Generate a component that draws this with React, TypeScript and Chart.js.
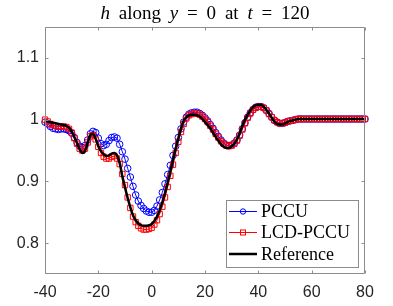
import React, { useEffect, useRef } from 'react';
import { Chart, registerables } from 'chart.js';

Chart.register(...registerables);

// x grid (position along y = 0)
const xGrid = [
  -40, -39, -38, -37, -36, -35, -34, -33, -32, -31, -30, -29, -28, -27, -26, -25, -24, -23, -22, -21,
  -20, -19, -18, -17, -16, -15, -14, -13, -12, -11, -10, -9, -8, -7, -6, -5, -4, -3, -2, -1,
  0, 1, 2, 3, 4, 5, 6, 7, 8, 9, 10, 11, 12, 13, 14, 15, 16, 17, 18, 19,
  20, 21, 22, 23, 24, 25, 26, 27, 28, 29, 30, 31, 32, 33, 34, 35, 36, 37, 38, 39,
  40, 41, 42, 43, 44, 45, 46, 47, 48, 49, 50, 51, 52, 53, 54, 55, 56, 57, 58, 59,
  60, 61, 62, 63, 64, 65, 66, 67, 68, 69, 70, 71, 72, 73, 74, 75, 76, 77, 78, 79, 80,
];

const pccu = [
  0.996, 0.993, 0.989, 0.986, 0.985, 0.984, 0.985, 0.985, 0.984, 0.982, 0.978, 0.971, 0.963, 0.957, 0.955, 0.958, 0.967, 0.977, 0.981, 0.979,
  0.970, 0.961, 0.958, 0.960, 0.966, 0.971, 0.972, 0.970, 0.960, 0.948, 0.936, 0.921, 0.907, 0.892, 0.878, 0.868, 0.861, 0.856, 0.852, 0.850,
  0.850, 0.853, 0.860, 0.870, 0.882, 0.896, 0.911, 0.926, 0.942, 0.957, 0.971, 0.985, 0.996, 1.004, 1.009, 1.011, 1.012, 1.012, 1.010, 1.007,
  1.003, 0.998, 0.992, 0.986, 0.979, 0.973, 0.967, 0.962, 0.959, 0.958, 0.959, 0.962, 0.967, 0.975, 0.985, 0.995, 1.004, 1.011, 1.016, 1.020,
  1.021, 1.021, 1.019, 1.015, 1.010, 1.004, 0.999, 0.996, 0.994, 0.994, 0.995, 0.997, 0.998, 0.999, 1.000, 1.001, 1.001, 1.001, 1.001, 1.001,
  1.001, 1.001, 1.001, 1.001, 1.001, 1.001, 1.001, 1.001, 1.001, 1.001, 1.001, 1.001, 1.001, 1.001, 1.001, 1.001, 1.001, 1.001, 1.001, 1.001, 1.001,
];

const lcdPccu = [
  1.000, 0.997, 0.993, 0.991, 0.990, 0.989, 0.989, 0.989, 0.988, 0.985, 0.979, 0.970, 0.961, 0.953, 0.950, 0.953, 0.963, 0.973, 0.975, 0.968,
  0.956, 0.946, 0.940, 0.937, 0.937, 0.940, 0.941, 0.937, 0.928, 0.912, 0.894, 0.874, 0.857, 0.843, 0.834, 0.828, 0.824, 0.822, 0.822, 0.823,
  0.825, 0.830, 0.837, 0.847, 0.859, 0.874, 0.891, 0.909, 0.927, 0.946, 0.964, 0.980, 0.993, 1.002, 1.007, 1.009, 1.010, 1.010, 1.008, 1.005,
  1.001, 0.996, 0.990, 0.984, 0.977, 0.971, 0.965, 0.961, 0.958, 0.957, 0.958, 0.961, 0.966, 0.974, 0.984, 0.994, 1.003, 1.010, 1.016, 1.019,
  1.021, 1.021, 1.019, 1.015, 1.009, 1.004, 0.999, 0.996, 0.994, 0.994, 0.995, 0.997, 0.998, 0.999, 1.000, 1.001, 1.001, 1.001, 1.001, 1.001,
  1.001, 1.001, 1.001, 1.001, 1.001, 1.001, 1.001, 1.001, 1.001, 1.001, 1.001, 1.001, 1.001, 1.001, 1.001, 1.001, 1.001, 1.001, 1.001, 1.001, 1.001,
];

const reference = [
  0.998, 0.997, 0.996, 0.995, 0.994, 0.993, 0.992, 0.991, 0.990, 0.987, 0.981, 0.972, 0.962, 0.952, 0.946, 0.949, 0.962, 0.975, 0.977, 0.969,
  0.957, 0.949, 0.944, 0.941, 0.942, 0.945, 0.946, 0.942, 0.930, 0.908, 0.890, 0.873, 0.858, 0.845, 0.837, 0.832, 0.829, 0.828, 0.828, 0.829,
  0.831, 0.836, 0.843, 0.853, 0.866, 0.881, 0.898, 0.916, 0.934, 0.953, 0.970, 0.986, 0.998, 1.004, 1.007, 1.008, 1.008, 1.007, 1.005, 1.001,
  0.996, 0.991, 0.986, 0.979, 0.972, 0.966, 0.960, 0.956, 0.954, 0.954, 0.957, 0.961, 0.968, 0.978, 0.990, 1.000, 1.008, 1.015, 1.020, 1.023,
  1.024, 1.024, 1.021, 1.016, 1.010, 1.003, 0.997, 0.993, 0.992, 0.992, 0.994, 0.996, 0.998, 0.999, 1.000, 1.001, 1.001, 1.001, 1.001, 1.001,
  1.001, 1.001, 1.001, 1.001, 1.001, 1.001, 1.001, 1.001, 1.001, 1.001, 1.001, 1.001, 1.001, 1.001, 1.001, 1.001, 1.001, 1.001, 1.001, 1.001, 1.001,
];

const xTicks = [-40, -20, 0, 20, 40, 60, 80];
const yTicks = [0.8, 0.9, 1, 1.1];
const yTickLabels = ['0.8', '0.9', '1', '1.1'];
const seriesLabels = ['PCCU', 'LCD-PCCU', 'Reference'];

const W = 393;
const H = 306;
const SANS = "'Liberation Sans', Arial, Helvetica, sans-serif";
const SERIF = "'Liberation Serif', 'Times New Roman', serif";
const FRAME = '#8c8c8c';
const TEXT = '#262626';

const toPts = (ys: number[]) => ys.map((y, i) => ({ x: xGrid[i], y }));

const decorPlugin = {
  id: 'decor',
  afterDatasetsDraw(chart: any) {
    const { ctx, chartArea: a, scales } = chart;
    const L = Math.round(a.left) + 0.5;
    const R = Math.round(a.right) - 0.5;
    const T = Math.round(a.top) + 0.5;
    const B = Math.round(a.bottom) - 0.5;
    ctx.save();
    ctx.strokeStyle = FRAME;
    ctx.lineWidth = 1;
    ctx.beginPath();
    ctx.rect(L, T, R - L, B - T);
    const tl = 3;
    xTicks.forEach((v) => {
      const px = Math.round(scales.x.getPixelForValue(v)) + 0.5;
      ctx.moveTo(px, B);
      ctx.lineTo(px, B - tl);
      ctx.moveTo(px, T);
      ctx.lineTo(px, T + tl);
    });
    yTicks.forEach((v) => {
      const py = Math.round(scales.y.getPixelForValue(v)) + 0.5;
      ctx.moveTo(L, py);
      ctx.lineTo(L + tl, py);
      ctx.moveTo(R, py);
      ctx.lineTo(R - tl, py);
    });
    ctx.stroke();

    // Title with italic math variables
    const fs = 19;
    const parts: [string, boolean][] = [
      ['h', true], [' along ', false], ['y', true], [' = 0 at ', false], ['t', true], [' = 120', false],
    ];
    const targetW = 209;
    let natural = 0;
    let spaces = 0;
    parts.forEach(([s, it]) => {
      ctx.font = `${it ? 'italic ' : ''}${fs}px ${SERIF}`;
      natural += ctx.measureText(s).width;
      spaces += (s.match(/ /g) || []).length;
    });
    const extra = Math.max(0, (targetW - natural) / spaces);
    let x = (a.left + a.right) / 2 - (natural + extra * spaces) / 2;
    ctx.fillStyle = '#000';
    ctx.textBaseline = 'alphabetic';
    ctx.textAlign = 'left';
    parts.forEach(([s, it]) => {
      ctx.font = `${it ? 'italic ' : ''}${fs}px ${SERIF}`;
      for (const ch of s.split(/( )/)) {
        if (ch === '') continue;
        if (ch === ' ') {
          x += ctx.measureText(' ').width + extra;
        } else {
          ctx.fillText(ch, x, 19);
          x += ctx.measureText(ch).width;
        }
      }
    });

    // Legend
    const bx = 226, by = 200, bw = 132, bh = 67;
    ctx.fillStyle = '#fff';
    ctx.fillRect(bx, by, bw, bh);
    ctx.strokeStyle = FRAME;
    ctx.strokeRect(bx + 0.5, by + 0.5, bw, bh);
    const rows = [
      { color: '#0000ff', lw: 1, marker: 'circle', y: 211.5 },
      { color: '#ff0000', lw: 1, marker: 'rect', y: 232.5 },
      { color: '#000000', lw: 2.5, marker: '', y: 254 },
    ];
    ctx.font = `18px ${SERIF}`;
    ctx.textBaseline = 'middle';
    rows.forEach((r, i) => {
      ctx.strokeStyle = r.color;
      ctx.lineWidth = r.lw;
      ctx.beginPath();
      ctx.moveTo(229, r.y);
      ctx.lineTo(257, r.y);
      ctx.stroke();
      ctx.lineWidth = 1;
      if (r.marker === 'circle') {
        ctx.beginPath();
        ctx.arc(243, r.y, 2.7, 0, Math.PI * 2);
        ctx.stroke();
      } else if (r.marker === 'rect') {
        ctx.strokeRect(240.5, r.y - 2.5, 5, 5);
      }
      ctx.fillStyle = '#000';
      ctx.fillText(seriesLabels[i], 261, r.y + 1);
    });
    ctx.restore();
  },
};

export default function App() {
  const ref = useRef<HTMLCanvasElement | null>(null);
  useEffect(() => {
    if (!ref.current) return;
    const chart = new Chart(ref.current, {
      type: 'line',
      data: {
        datasets: [
          {
            label: seriesLabels[2],
            data: toPts(reference),
            borderColor: '#000000',
            borderWidth: 2.5,
            pointRadius: 0,
            cubicInterpolationMode: 'monotone',
            order: 0,
            clip: false,
          } as any,
          {
            label: seriesLabels[1],
            data: toPts(lcdPccu),
            borderColor: '#ff0000',
            borderWidth: 1,
            pointStyle: 'rect',
            pointRadius: 3.8,
            pointBorderColor: '#ff0000',
            pointBackgroundColor: 'rgba(0,0,0,0)',
            pointBorderWidth: 1,
            order: 1,
            clip: false,
          },
          {
            label: seriesLabels[0],
            data: toPts(pccu),
            borderColor: '#0000ff',
            borderWidth: 1,
            pointStyle: 'circle',
            pointRadius: 3.3,
            pointBorderColor: '#0000ff',
            pointBackgroundColor: 'rgba(0,0,0,0)',
            pointBorderWidth: 1,
            order: 2,
            clip: false,
          },
        ],
      },
      options: {
        responsive: false,
        animation: false,
        devicePixelRatio: 1,
        layout: { padding: { top: 27, right: 28, left: 0, bottom: 0 } },
        plugins: {
          legend: { display: false },
          tooltip: { enabled: false },
          title: { display: false },
        },
        scales: {
          x: {
            type: 'linear',
            min: -40,
            max: 80,
            afterBuildTicks: (s: any) => {
              s.ticks = xTicks.map((v) => ({ value: v }));
            },
            ticks: {
              color: TEXT,
              font: { family: SANS, size: 16 },
              padding: 9,
              maxRotation: 0,
              autoSkip: false,
              callback: (v: any) => String(v),
            },
            grid: { display: false, drawTicks: false },
            border: { display: false },
            afterFit: (s: any) => {
              s.height = 32;
            },
          },
          y: {
            type: 'linear',
            min: 0.75,
            max: 1.15,
            afterBuildTicks: (s: any) => {
              s.ticks = yTicks.map((v) => ({ value: v }));
            },
            ticks: {
              color: TEXT,
              font: { family: SANS, size: 16 },
              padding: 6,
              autoSkip: false,
              callback: (v: any) => {
                const i = yTicks.findIndex((t) => Math.abs(t - v) < 1e-9);
                return i >= 0 ? yTickLabels[i] : '';
              },
            },
            grid: { display: false, drawTicks: false },
            border: { display: false },
            afterFit: (s: any) => {
              s.width = 45;
            },
          },
        },
      },
      plugins: [decorPlugin],
    });
    return () => chart.destroy();
  }, []);

  return (
    <div style={{ position: 'fixed', left: 0, top: 0, width: W, height: H, background: '#fff' }}>
      <canvas ref={ref} width={W} height={H} style={{ width: W, height: H, display: 'block' }} />
    </div>
  );
}
